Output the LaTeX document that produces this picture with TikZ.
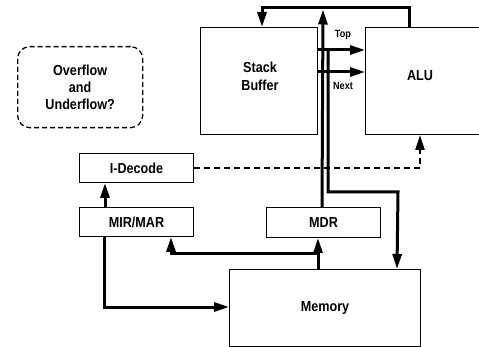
\documentclass[tikz,border=0pt]{standalone}
\usepackage{fontspec}
\setmainfont{Liberation Sans}[FakeStretch=0.87]
\usetikzlibrary{arrows.meta,calc}
\begin{document}
\begin{tikzpicture}[x=1pt,y=-1pt,
  txt/.style={font=\fontsize{14.5}{18}\selectfont\bfseries, align=center, inner sep=0pt},
  small/.style={font=\fontsize{10.5}{11}\selectfont\bfseries, inner sep=0pt},
  box/.style={draw, line width=1pt, inner sep=0pt, anchor=north west, txt},
  bus/.style={line width=3pt, -{Triangle[length=15pt,width=9pt]}},
  dbus/.style={line width=2.6pt, dash pattern=on 6pt off 4pt, -{Triangle[length=15pt,width=9pt]}},
  note/.style={draw, dashed, dash pattern=on 5pt off 3pt, line width=1.3pt, rounded corners=12pt,
    anchor=north west, txt, minimum width=125pt, minimum height=81pt}
]
\useasboundingbox (0,0) rectangle (479,347);
\clip (0,0) rectangle (479,347);

% boxes
\node[box, minimum width=117pt, minimum height=107pt] (sb) at (200,27) {};
\node[txt] (sbtext) at (260,76) {Stack\\Buffer};
\node[box, minimum width=130pt, minimum height=107pt] (alu) at (365,27) {};
\node[txt] (alutext) at (420,76) {ALU};
\node[box, minimum width=114pt, minimum height=29pt] (idec) at (79,153) {I-Decode};
\node[box, minimum width=114pt, minimum height=29pt] (mir) at (79,207) {MIR/MAR};
\node[box, minimum width=114pt, minimum height=30pt] (mdr) at (266,207) {MDR};
\node[box, minimum width=191pt, minimum height=77pt] (mem) at (229,269) {Memory};
\node[note] (ovf) at (17,46) {Overflow\\[-1pt]and\\[-1pt]Underflow?};

% labels
\node[small] (top) at (343,35) {Top};
\node[small] (next) at (343,86) {Next};

% connectors
\draw[bus] ($(alu.north west)+(44,0)$) -- ++(0,-19) -| ($(sb.north west)+(62,0)$);
\draw[bus] ($(mdr.north west)+(56,0)$) -- ($(sb.north east)+(5,-17.5)$);
\draw[bus] ($(sb.north east)+(0,23)$) -- ($(alu.north west)+(0,23)$);
\draw[bus] ($(sb.north east)+(0,45)$) -- ($(alu.north west)+(0,45)$);
\draw[bus] ($(sb.north east)+(10,23)$) |- ($(mdr.north east)+(17,-15)$) -- ($(mem.north west)+(168,0)$);
\draw[dbus] (idec.east) -| ($(alu.south west)+(55,0)$);
\draw[bus] ($(mem.north west)+(89,0)$) -- ($(mdr.south west)+(52,0)$);
\draw[bus] ($(mem.north west)+(89,-15)$) -| ($(mir.south west)+(92,0)$);
\draw[bus] ($(mir.north west)+(26,0)$) -- ($(idec.south west)+(26,0)$);
\draw[bus] ($(mir.south west)+(25,0)$) |- ($(mem.north west)+(0,38)$);
\end{tikzpicture}
\end{document}
